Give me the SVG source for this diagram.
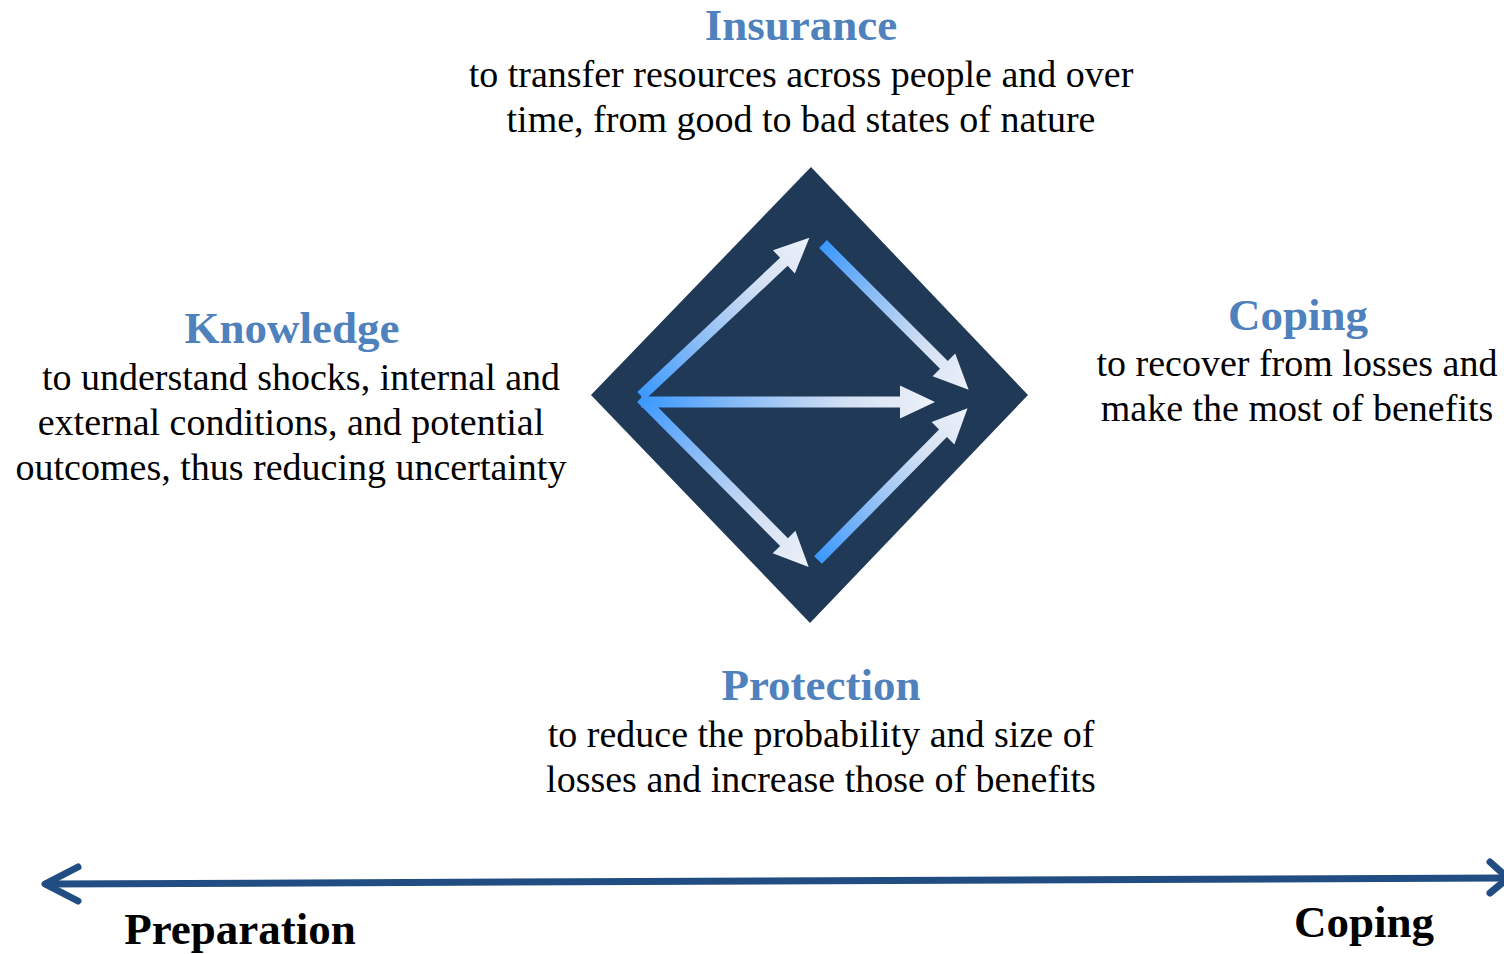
<svg xmlns="http://www.w3.org/2000/svg" width="1504" height="954" viewBox="0 0 1504 954">
  <style>
    .head { font-family: "Liberation Serif", "Times New Roman", serif; font-weight: bold; font-size: 45px; fill: #4f81bd; text-anchor: middle; }
    .body { font-family: "Liberation Serif", "Times New Roman", serif; font-size: 38px; fill: #000; text-anchor: middle; }
    .axis-label { font-family: "Liberation Serif", "Times New Roman", serif; font-weight: bold; font-size: 45px; fill: #000; text-anchor: middle; }
    .axis { fill: none; stroke: #214d82; stroke-width: 7; stroke-linecap: round; stroke-linejoin: round; }
  </style>
  <defs>
    <!-- fade from bright blue at the tail to pale white at the head -->
    <linearGradient id="flow" x1="0" y1="0" x2="1" y2="0">
      <stop offset="0" stop-color="#3a98ff"/>
      <stop offset="0.35" stop-color="#8dbdf5"/>
      <stop offset="0.7" stop-color="#d3e0f3"/>
      <stop offset="1" stop-color="#edf1f9"/>
    </linearGradient>
  </defs>

  <rect width="1504" height="954" fill="#ffffff"/>

  <!-- central diamond with internal flow arrows -->
  <g id="diamond">
    <polygon points="811,167 1028,395 810,623 591,395" fill="#1f3957"/>
    <!-- origin to top -->
    <path transform="translate(641,396) rotate(-43.2)" fill="url(#flow)" d="M0,-5.5 L196,-5.5 L196,-16 L231,0 L196,16 L196,5.5 L0,5.5 Z"/>
    <!-- origin to right -->
    <path transform="translate(641,402)" fill="url(#flow)" d="M0,-5.5 L259,-5.5 L259,-16.5 L294,0 L259,16.5 L259,5.5 L0,5.5 Z"/>
    <!-- origin to bottom -->
    <path transform="translate(641,398) rotate(45.2)" fill="url(#flow)" d="M0,-5.5 L203,-5.5 L203,-16 L238,0 L203,16 L203,5.5 L0,5.5 Z"/>
    <!-- top to right point -->
    <path transform="translate(823,244) rotate(45)" fill="url(#flow)" d="M0,-5.5 L171,-5.5 L171,-16 L206,0 L171,16 L171,5.5 L0,5.5 Z"/>
    <!-- bottom to right point -->
    <path transform="translate(818,560) rotate(-45.4)" fill="url(#flow)" d="M0,-5.5 L178,-5.5 L178,-16 L213,0 L178,16 L178,5.5 L0,5.5 Z"/>
  </g>

  <g id="insurance">
    <text class="head" x="801" y="40">Insurance</text>
    <text class="body" x="801" y="87">to transfer resources across people and over</text>
    <text class="body" x="801" y="132">time, from good to bad states of nature</text>
  </g>

  <g id="knowledge">
    <text class="head" x="292" y="343">Knowledge</text>
    <text class="body" x="301" y="390">to understand shocks, internal and</text>
    <text class="body" x="291" y="435">external conditions, and potential</text>
    <text class="body" x="291" y="480">outcomes, thus reducing uncertainty</text>
  </g>

  <g id="coping">
    <text class="head" x="1298" y="330">Coping</text>
    <text class="body" x="1297" y="376">to recover from losses and</text>
    <text class="body" x="1297" y="421">make the most of benefits</text>
  </g>

  <g id="protection">
    <text class="head" x="821" y="700">Protection</text>
    <text class="body" x="821" y="747">to reduce the probability and size of</text>
    <text class="body" x="821" y="792">losses and increase those of benefits</text>
  </g>

  <!-- timeline axis -->
  <g id="connectors">
    <path class="axis" d="M46,884 L1506,878"/>
    <path class="axis" d="M78,867 L45,884 L78,901"/>
    <path class="axis" d="M1490,862 L1508,878 L1490,893"/>
  </g>

  <g id="axis-labels">
    <text class="axis-label" x="240" y="944">Preparation</text>
    <text class="axis-label" x="1364" y="937">Coping</text>
  </g>
</svg>
